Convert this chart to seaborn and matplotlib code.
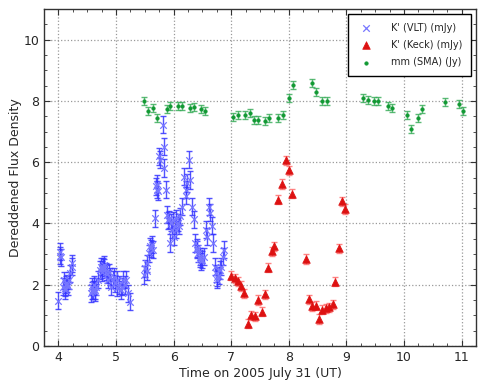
import numpy as np
import pandas as pd
import matplotlib
matplotlib.use("Agg")
import matplotlib.pyplot as plt
import seaborn as sns

# VLT K' (mJy)
vlt_t = [4.00, 4.02, 4.03, 4.05, 4.08, 4.10, 4.11, 4.12, 4.14, 4.15, 4.17, 4.18, 4.20, 4.23, 4.24,
         4.57, 4.58, 4.59, 4.60, 4.62, 4.63, 4.64, 4.66, 4.68,
         4.72, 4.74, 4.75, 4.76, 4.77, 4.79, 4.80, 4.83, 4.85,
         4.86, 4.88, 4.89, 4.91, 4.94, 4.96, 4.99, 5.01, 5.02, 5.05, 5.08, 5.10, 5.13, 5.16, 5.18, 5.21, 5.24,
         5.49, 5.51, 5.53, 5.54, 5.57, 5.59, 5.60, 5.62, 5.64, 5.67,
         5.70, 5.71, 5.72, 5.73, 5.75, 5.77, 5.81, 5.83, 5.84, 5.86,
         5.89, 5.91, 5.92, 5.93, 5.95, 5.97, 5.99, 6.00, 6.02, 6.04, 6.05, 6.07, 6.09, 6.11,
         6.15, 6.18, 6.21, 6.22, 6.24, 6.27, 6.29, 6.32, 6.35,
         6.38, 6.40, 6.41, 6.43, 6.45, 6.46, 6.48, 6.50, 6.52,
         6.56, 6.58, 6.61, 6.64, 6.66, 6.69,
         6.71, 6.73, 6.75, 6.76, 6.78, 6.80, 6.82, 6.85, 6.87]
vlt_f = [1.48, 2.95, 3.08, 2.90, 1.94, 2.15, 1.90, 1.83, 2.00, 2.04, 1.95, 2.15, 2.37, 2.59, 2.70,
         1.72, 1.94, 1.80, 1.83, 1.99, 1.75, 1.83, 1.94, 2.16,
         2.48, 2.59, 2.40, 2.50, 2.59, 2.65, 2.55, 2.43, 2.35,
         2.16, 2.40, 2.26, 1.94, 2.16, 2.26, 2.05, 1.90, 2.16, 1.99, 1.83, 1.94, 2.16, 1.99, 2.16, 1.72, 1.45,
         2.32, 2.54, 2.45, 2.70, 3.03, 3.25, 3.19, 3.30, 3.14, 4.17,
         5.21, 5.10, 5.30, 5.05, 6.19, 6.08, 7.22, 6.51, 5.81, 5.10,
         4.28, 4.10, 4.13, 3.36, 4.03, 3.80, 4.10, 3.57, 3.92, 3.80, 4.17, 4.03, 3.92, 4.24,
         4.55, 5.53, 5.10, 4.90, 5.32, 6.08, 5.42, 4.55, 4.13,
         3.36, 3.20, 3.14, 3.03, 2.92, 2.85, 2.76, 2.81, 2.92,
         3.79, 3.57, 4.55, 4.35, 3.92, 3.36,
         2.59, 2.38, 2.25, 2.16, 2.30, 2.48, 2.59, 2.92, 3.14]

# Keck K' (mJy)
keck_t = [7.00, 7.06, 7.11, 7.17, 7.23, 7.29, 7.35, 7.41, 7.47, 7.53, 7.59,
          7.64, 7.70, 7.75, 7.81, 7.88, 7.95, 8.00, 8.06,
          8.29, 8.35, 8.40, 8.47, 8.52, 8.58, 8.64, 8.70, 8.76, 8.81, 8.87, 8.93, 8.98]
keck_f = [2.29, 2.21, 2.11, 1.96, 1.72, 0.73, 1.00, 0.97, 1.50, 1.12, 1.69,
          2.55, 3.09, 3.25, 4.77, 5.29, 6.06, 5.74, 4.97,
          2.84, 1.53, 1.29, 1.32, 0.88, 1.18, 1.23, 1.26, 1.36, 2.10, 3.19, 4.72, 4.47]

# SMA mm (Jy)
sma_t = [5.49, 5.56, 5.65, 5.72, 5.88, 5.94, 6.07, 6.14, 6.29, 6.36, 6.47, 6.55,
         7.03, 7.12, 7.24, 7.32, 7.39, 7.47, 7.58, 7.65, 7.81, 7.90,
         8.00, 8.07, 8.40, 8.47, 8.58, 8.66,
         9.29, 9.37, 9.48, 9.54, 9.72, 9.79, 10.05, 10.12, 10.24, 10.31, 10.72, 10.96, 11.02]
sma_f = [8.00, 7.68, 7.78, 7.45, 7.75, 7.84, 7.84, 7.84, 7.78, 7.81, 7.75, 7.68,
         7.49, 7.54, 7.54, 7.61, 7.38, 7.38, 7.36, 7.45, 7.44, 7.55,
         8.09, 8.51, 8.59, 8.30, 8.00, 8.00,
         8.08, 8.04, 8.00, 8.00, 7.82, 7.77, 7.55, 7.09, 7.44, 7.75, 7.97, 7.90, 7.68]

vlt = pd.DataFrame({"t": vlt_t, "f": vlt_f})
keck = pd.DataFrame({"t": keck_t, "f": keck_f})
sma = pd.DataFrame({"t": sma_t, "f": sma_f})

sns.set_style("ticks")
plt.rcParams["font.family"] = ["DejaVu Sans"]

fig = plt.figure(figsize=(4.91, 3.85), dpi=100)
ax = fig.add_axes([0.0896, 0.1013, 0.8799, 0.8753])

blue = "#3535ff"
red = "#dd1111"
green = "#119933"

ax.errorbar(vlt["t"], vlt["f"], yerr=0.28, fmt="none", ecolor=blue, alpha=0.85,
            elinewidth=1.0, capsize=2.5, capthick=1.0, zorder=2)
ax.errorbar(keck["t"], keck["f"], yerr=0.15, fmt="none", ecolor="#ff6666", alpha=0.8,
            elinewidth=1.0, capsize=2.5, capthick=1.0, zorder=2)
ax.errorbar(sma["t"], sma["f"], yerr=0.13, fmt="none", ecolor="#33aa55", alpha=0.8,
            elinewidth=1.0, capsize=2.5, capthick=1.0, zorder=2)

sns.scatterplot(data=vlt, x="t", y="f", marker="x", color="#7777ff", s=22,
                linewidth=0.9, ax=ax, label="K' (VLT) (mJy)", zorder=3)
sns.scatterplot(data=keck, x="t", y="f", marker="^", color=red, s=30,
                edgecolor=red, linewidth=0.5, ax=ax, label="K' (Keck) (mJy)", zorder=3)
sns.scatterplot(data=sma, x="t", y="f", marker="o", color=green, s=7,
                edgecolor=green, linewidth=0.3, ax=ax, label="mm (SMA) (Jy)", zorder=3)

ax.set_xlim(3.75, 11.25)
ax.set_ylim(0, 11)
ax.set_xticks([4, 5, 6, 7, 8, 9, 10, 11])
ax.set_yticks([0, 2, 4, 6, 8, 10])
ax.set_xticks(np.arange(3.75, 11.26, 0.25), minor=True)
ax.set_yticks(np.arange(0, 11.01, 0.5), minor=True)
ax.grid(True, which="major", linestyle=":", color="#999999", linewidth=0.9)
ax.tick_params(which="both", direction="in", top=True, right=True, labelsize=9,
               color="#333333")
ax.tick_params(which="major", length=4, width=0.8)
ax.tick_params(which="minor", length=2, width=0.6)
for s in ax.spines.values():
    s.set_color("#333333")
    s.set_linewidth(1.0)

ax.set_xlabel("Time on 2005 July 31 (UT)", fontsize=9, labelpad=2)
ax.set_ylabel("Dereddened Flux Density", fontsize=9, labelpad=1)

leg = ax.legend(loc="upper right", fontsize=7, frameon=True, fancybox=False,
                edgecolor="black", framealpha=1, borderpad=0.9, handlelength=1.9,
                handletextpad=1.6, labelspacing=0.75, borderaxespad=0.5)
leg.get_frame().set_linewidth(1.0)

fig.savefig("out.png", dpi=100)
